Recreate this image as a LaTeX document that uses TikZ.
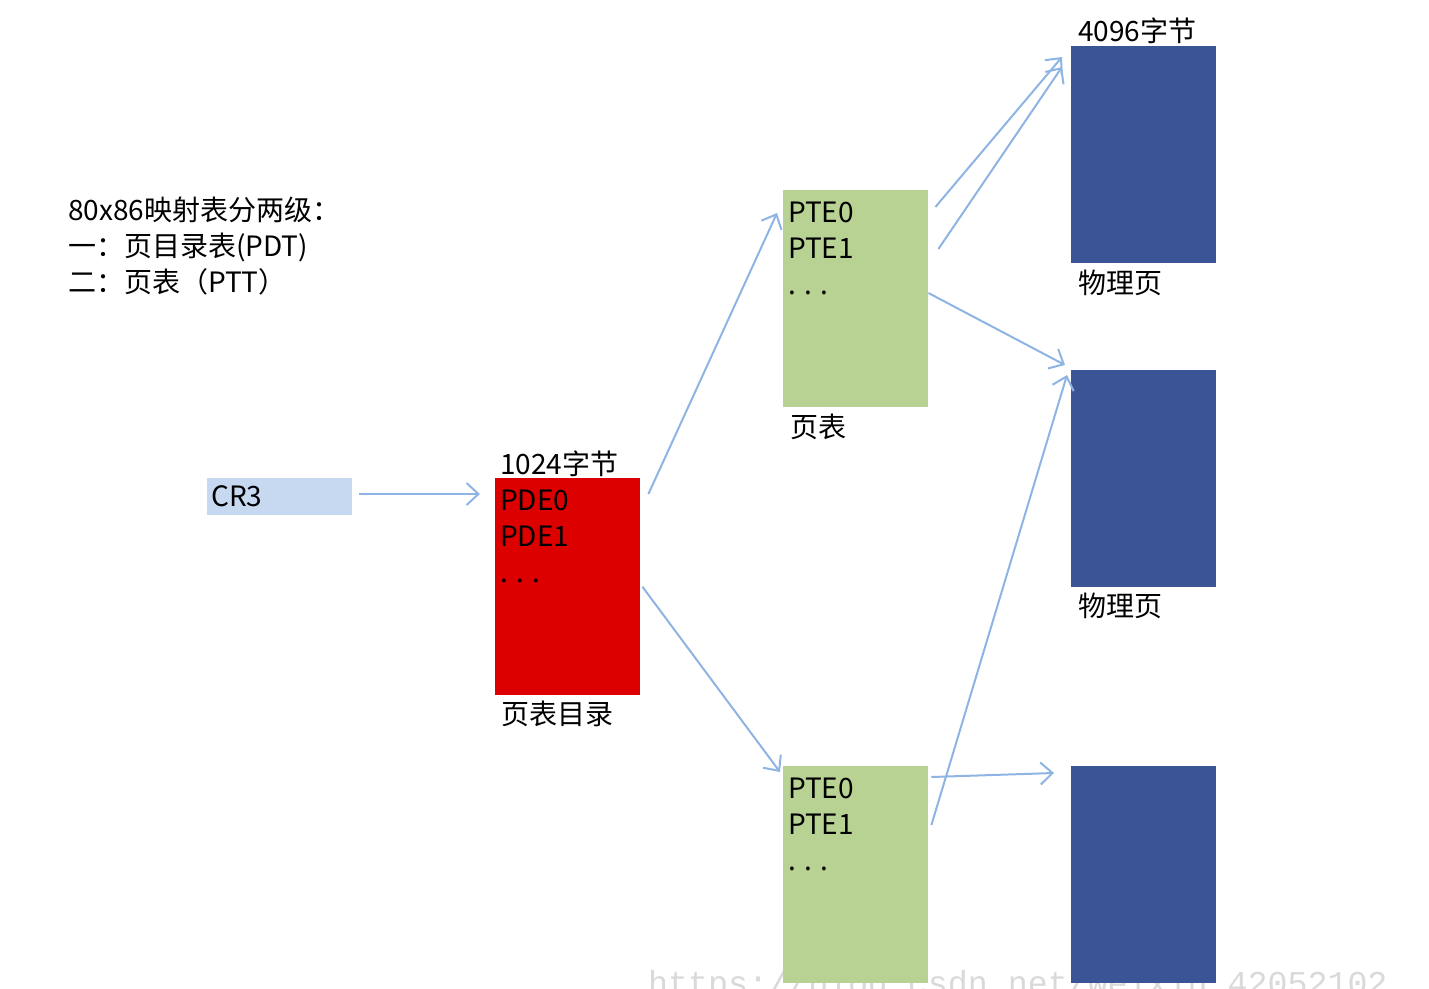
\documentclass[tikz,border=0pt]{standalone}
\usepackage{fontspec}
\setmainfont{Noto Sans CJK SC}
\newfontfamily\wmfont{Liberation Mono}
\usetikzlibrary{positioning,arrows.meta}

\definecolor{regblue}{HTML}{C6D9F0}
\definecolor{dirred}{HTML}{DD0000}
\definecolor{tblgreen}{HTML}{B8D293}
\definecolor{pageblue}{HTML}{3B5496}
\definecolor{linkblue}{HTML}{8EB4E3}

\begin{document}
\begin{tikzpicture} [
    x=1pt, y=-1pt,
    txt/.style      = { font=\fontsize{28}{36}\selectfont, inner sep=0pt,
                        align=left },
    block/.style    = { rectangle, draw=none, anchor=north west,
                        minimum width=145pt, inner sep=0pt },
    regblock/.style = { block, fill=regblue, minimum height=37pt,
                        txt, text width=137pt, inner sep=4pt },
    dirblock/.style = { block, fill=dirred, minimum height=217pt },
    tblblock/.style = { block, fill=tblgreen, minimum height=217pt },
    pgblock/.style  = { block, fill=pageblue, minimum height=217pt },
    line/.style     = { draw=linkblue, line width=2pt,
                        -{Straight Barb[length=12pt, width=22pt]} },
  ]
  \useasboundingbox (0,0) rectangle (1429,988);

  % watermark
  \node[anchor=base west, inner sep=0pt, text=black!15,
        font=\wmfont\fontsize{33.3}{40}\selectfont] (mark) at (648,994)
        {https://blog.csdn.net/weixin\_42052102};

  % title
  \node[txt, anchor=north west] (title) at (68,197)
        {80x86映射表分两级：\\一：页目录表(PDT)\\二：页表（PTT）};

  % blocks
  \node[regblock] (cr3) at (207,478) {CR3};
  \node[dirblock] (pd)  at (495,478) {};
  \node[tblblock] (pt1) at (783,190) {};
  \node[tblblock] (pt2) at (783,766) {};
  \node[pgblock]  (pg1) at (1071,46) {};
  \node[pgblock]  (pg2) at (1071,370) {};
  \node[pgblock]  (pg3) at (1071,766) {};

  % entries and captions
  \node[txt, anchor=north west] (pdent)  at ([shift={(5,12)}]pd.north west)  {PDE0\\PDE1\\. . .};
  \node[txt, anchor=north west] (pt1ent) at ([shift={(5,12)}]pt1.north west) {PTE0\\PTE1\\. . .};
  \node[txt, anchor=north west] (pt2ent) at ([shift={(5,12)}]pt2.north west) {PTE0\\PTE1\\. . .};
  \node[txt, anchor=base west] (pdsize)  at ([shift={(5,-4)}]pd.north west)  {1024字节};
  \node[txt, anchor=base west] (pdname)  at ([shift={(6,29)}]pd.south west)  {页表目录};
  \node[txt, anchor=base west] (pt1name) at ([shift={(7,30)}]pt1.south west) {页表};
  \node[txt, anchor=base west] (pgsize)  at ([shift={(7,-5)}]pg1.north west) {4096字节};
  \node[txt, anchor=base west] (pg1name) at ([shift={(7,30)}]pg1.south west) {物理页};
  \node[txt, anchor=base west] (pg2name) at ([shift={(7,29)}]pg2.south west) {物理页};

  % connect the nodes
  \path [line] ([shift={(7,16)}]cr3.north east) -- ([shift={(-15,16)}]pd.north west);
  \path [line] ([shift={(8,16)}]pd.north east) -- ([shift={(-6,23)}]pt1.north west);
  \path [line] ([xshift=2pt]pd.east) -- ([shift={(-3,6)}]pt2.north west);
  \path [line] ([shift={(7,17)}]pt1.north east) -- ([shift={(-9,11)}]pg1.north west);
  \path [line] ([shift={(10,59)}]pt1.north east) -- ([shift={(-9,21)}]pg1.north west);
  \path [line] ([shift={(0,103)}]pt1.north east) -- ([shift={(-6,-5)}]pg2.north west);
  \path [line] ([shift={(3,59)}]pt2.north east) -- ([shift={(-4,5)}]pg2.north west);
  \path [line] ([shift={(3,11)}]pt2.north east) -- ([shift={(-17,7)}]pg3.north west);
\end{tikzpicture}
\end{document}
